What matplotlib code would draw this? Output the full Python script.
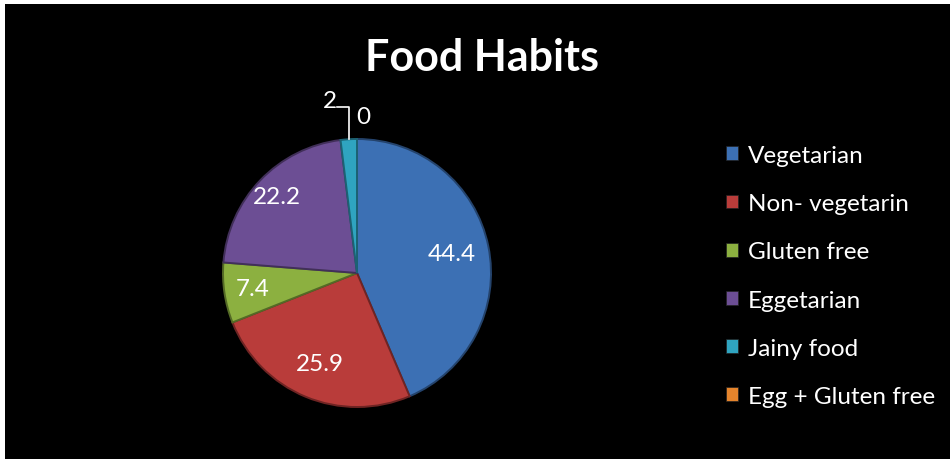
import matplotlib.pyplot as plt
import numpy as np
from matplotlib.colors import to_rgb
from matplotlib.patches import Patch, Rectangle

plt.rcParams["font.family"] = ["Lato", "DejaVu Sans"]

categories = ["Vegetarian", "Non- vegetarin", "Gluten free", "Eggetarian", "Jainy food", "Egg + Gluten free"]
values = [44.4, 25.9, 7.4, 22.2, 2, 0]
colors = ["#3c70b4", "#b93c3a", "#8cb040", "#6c4e94", "#2fa4c0", "#e5842c"]

fig = plt.figure(figsize=(9.5, 4.6), dpi=100, facecolor="black")
# thin white margin along the top and left edges
fig.patches.append(Rectangle((0, 455 / 460), 1, 5 / 460, transform=fig.transFigure,
                             facecolor="white", edgecolor="none"))
fig.patches.append(Rectangle((0, 0), 5 / 950, 1, transform=fig.transFigure,
                             facecolor="white", edgecolor="none"))

ax = fig.add_axes([223 / 950, 52 / 460, 268 / 950, 268 / 460])
ax.set_facecolor("none")
ax.set_zorder(2)
wedges, _ = ax.pie(values, colors=colors, startangle=90, counterclock=False, radius=1,
                   wedgeprops=dict(linewidth=1.4))
# darker rim on every slice for a bevelled look; empty slices stay invisible
for w, c, v in zip(wedges, colors, values):
    w.set_edgecolor(tuple(0.6 * np.array(to_rgb(c))))
    if v == 0:
        w.set_linewidth(0)
ax.set_xlim(-1, 1)
ax.set_ylim(-1, 1)
ax.set_aspect("equal")

# value labels inside the bigger slices
label_radius = [0.72, 0.73, 0.79, 0.83]
for w, v, r in zip(wedges[:4], values[:4], label_radius):
    mid = np.deg2rad(0.5 * (w.theta1 + w.theta2))
    ax.text(r * np.cos(mid), r * np.sin(mid), f"{v:g}", color="white", fontsize=17.5,
            ha="center", va="center")

# small slices get outside labels with a leader line
w = wedges[4]
mid = np.deg2rad(0.5 * (w.theta1 + w.theta2))
x0, y0 = np.cos(mid), np.sin(mid)
ax.plot([x0, x0, x0 - 0.09], [y0, 1.24, 1.24], color="white", linewidth=1.2, clip_on=False)
ax.text(x0 - 0.14, 1.29, f"{values[4]:g}", color="white", fontsize=17.5, ha="center", va="center")

w = wedges[5]
ang = np.deg2rad(w.theta1)
ax.text(np.cos(ang) + 0.05, 1.17, f"{values[5]:g}", color="white", fontsize=17.5, ha="center", va="center")

fig.text(482 / 950, 1 - 58 / 460, "Food Habits", color="white", fontsize=31, fontweight="bold",
         ha="center", va="center")

handles = [Patch(facecolor=c, edgecolor="#222222", linewidth=0.5) for c in colors]
fig.legend(handles, categories, loc="upper left", bbox_to_anchor=(704 / 950, 1 - 124 / 460),
           frameon=False, labelcolor="white", fontsize=17.5, handlelength=0.5, handleheight=0.5,
           handletextpad=0.4, labelspacing=1.12)

fig.savefig("out.png", dpi=100, facecolor=fig.get_facecolor())
